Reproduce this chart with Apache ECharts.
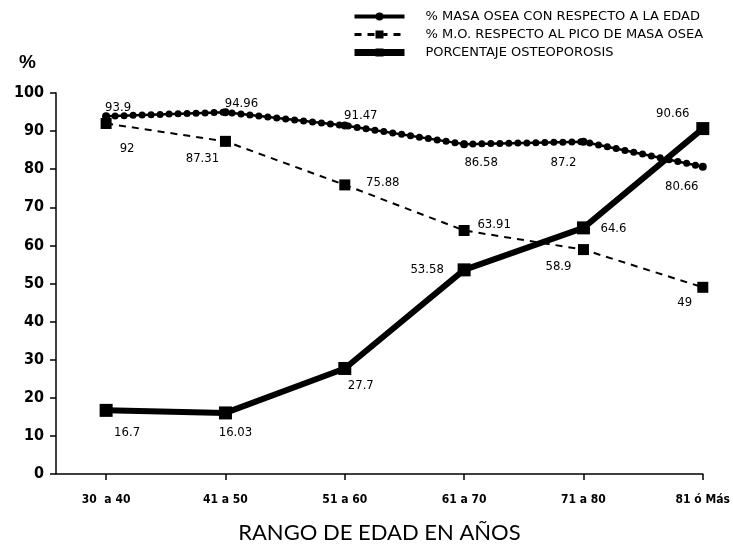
<!DOCTYPE html>
<html>
<head>
<meta charset="utf-8">
<script src="https://cdn.jsdelivr.net/npm/echarts@6/dist/echarts.min.js"></script>
<style>html,body{margin:0;padding:0;background:#fff}#c{width:733px;height:555px}</style>
</head>
<body>
<div id="c"></div>
<script>
var categories = ["30  a 40", "41 a 50", "51 a 60", "61 a 70", "71 a 80", "81 ó Más"];
var masaEdad = [93.9, 94.96, 91.47, 86.58, 87.2, 80.66];
var masaPico = [92, 87.31, 75.88, 63.91, 58.9, 49];
var osteoporosis = [16.7, 16.03, 27.7, 53.58, 64.6, 90.66];
var yTicks = [0, 10, 20, 30, 40, 50, 60, 70, 80, 90, 100];
var seriesNames = ["% MASA OSEA CON RESPECTO A LA EDAD", "% M.O. RESPECTO AL PICO DE MASA OSEA", "PORCENTAJE OSTEOPOROSIS"];

// label offsets (styling only)
var offEdad = [[12,-9],[16,-9],[16,-10],[17,18],[-20,21],[-21,20]];
var offPico = [[21,25],[-23,17],[38,-2],[30,-6],[-25,17],[-18,15]];
var offOst = [[21,22],[10,20],[16,17],[-37,0],[30,1],[-30,-15]];

var narrow = "'DejaVu Sans Condensed','Liberation Sans Narrow','Liberation Sans',Arial,sans-serif";
var labelFont = { fontFamily: narrow, fontSize: 13, color: '#000' };

function build(vals, offs) {
  return vals.map(function (v, i) {
    return {
      value: [i, v],
      label: Object.assign({ show: true, position: 'inside', offset: offs[i], formatter: String(v) }, labelFont)
    };
  });
}
function plain(vals) { return vals.map(function (v, i) { return [i, v]; }); }

var chart = echarts.init(document.getElementById('c'));
chart.setOption({
  animation: false,
  backgroundColor: '#fff',
  title: [{
    text: '%', left: 14, top: 48,
    textStyle: { fontFamily: "'Liberation Sans',Arial,sans-serif", fontSize: 19, fontWeight: 'bold', color: '#000' }
  }],
  legend: {
    data: [
      { name: seriesNames[0], lineStyle: { width: 4 } },
      { name: seriesNames[1], lineStyle: { width: 3 } },
      { name: seriesNames[2], lineStyle: { width: 7 } }
    ],
    orient: 'vertical',
    left: 346, top: 5,
    itemWidth: 50, itemHeight: 10, itemGap: 5,
    textStyle: { fontFamily: "'DejaVu Sans',sans-serif", fontSize: 13, lineHeight: 13, color: '#000', padding: [0, 0, 0, 16] }
  },
  grid: { left: 56, right: 30, top: 93, bottom: 81, containLabel: false },
  xAxis: {
    type: 'value', min: -0.42, max: 5,
    axisLine: { show: true, onZero: false, lineStyle: { color: '#000', width: 1.5 } },
    axisTick: { show: true, customValues: [0,1,2,3,4,5], length: 6, lineStyle: { color: '#000', width: 1.5 } },
    axisLabel: {
      customValues: [0,1,2,3,4,5], margin: 20,
      formatter: function (v) { return categories[Math.round(v)]; },
      fontFamily: narrow, fontWeight: 'bold', fontSize: 12, color: '#000'
    },
    splitLine: { show: false },
    name: 'RANGO DE EDAD EN AÑOS', nameLocation: 'middle', nameGap: 48,
    nameTextStyle: { fontFamily: "'Lato','DejaVu Sans',sans-serif", fontSize: 22, color: '#000' }
  },
  yAxis: {
    type: 'value', min: 0, max: 100, interval: 10,
    axisLine: { show: true, onZero: false, lineStyle: { color: '#000', width: 1.5 } },
    axisTick: { show: true, length: 6, lineStyle: { color: '#000', width: 1.5 } },
    axisLabel: {
      margin: 12,
      formatter: function (v) { return yTicks.indexOf(v) >= 0 ? String(v) : ''; },
      fontFamily: narrow, fontWeight: 'bold', fontSize: 16, color: '#000'
    },
    splitLine: { show: false }
  },
  series: [
    {
      name: seriesNames[0], type: 'line', data: build(masaEdad, offEdad),
      symbol: 'circle', symbolSize: 8, z: 5,
      itemStyle: { color: '#000' },
      lineStyle: { color: '#000', width: 2.5 }
    },
    {
      name: '_dots', type: 'line', data: plain(masaEdad),
      symbol: 'none', silent: true, z: 4,
      lineStyle: { color: '#000', width: 7, type: [0, 9], cap: 'round' }
    },
    {
      name: seriesNames[1], type: 'line', data: build(masaPico, offPico),
      symbol: 'rect', symbolSize: 11, z: 3,
      itemStyle: { color: '#000' },
      lineStyle: { color: '#000', width: 2, type: [7, 6] }
    },
    {
      name: seriesNames[2], type: 'line', data: build(osteoporosis, offOst),
      symbol: 'rect', symbolSize: 13, z: 6,
      itemStyle: { color: '#000' },
      lineStyle: { color: '#000', width: 6 }
    }
  ]
});
</script>
</body>
</html>
